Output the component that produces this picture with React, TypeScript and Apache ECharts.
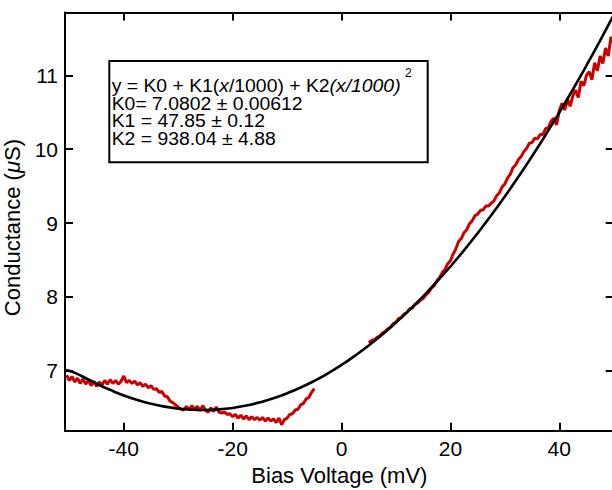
import React, { useEffect, useRef } from 'react';
import * as echarts from 'echarts';

// Measured data, left branch (negative bias)
const biasLeft = [
  -50.5, -50, -49.5, -49, -48.5, -48, -47.5, -47, -46.5, -46, -45.5, -45, -44.5, -44, -43.5, -43,
  -42.5, -42, -41.5, -41, -40.5, -40, -39.5, -39, -38.5, -38, -37.5, -37, -36.5, -36, -35.5, -35,
  -34.5, -34, -33.5, -33, -32.5, -32, -31.5, -31, -30.5, -30, -29.5, -29, -28.5, -28, -27.5, -27,
  -26.5, -26, -25.5, -25, -24.5, -24, -23.5, -23, -22.5, -22, -21.5, -21, -20.5, -20, -19.5, -19,
  -18.5, -18, -17.5, -17, -16.5, -16, -15.5, -15, -14.5, -14, -13.5, -13, -12.5, -12, -11.5, -11,
  -10.5, -10, -9.5, -9, -8.5, -8, -7.5, -7, -6.5, -6, -5.5, -5,
];
const condLeft = [
  6.94, 6.87, 6.92, 6.85, 6.90, 6.83, 6.89, 6.82, 6.87, 6.80, 6.86, 6.79, 6.85, 6.81, 6.87, 6.82,
  6.88, 6.83, 6.87, 6.82, 6.86, 6.93, 6.84, 6.87, 6.83, 6.86, 6.81, 6.84, 6.79, 6.82, 6.77, 6.80,
  6.75, 6.76, 6.71, 6.72, 6.66, 6.65, 6.59, 6.57, 6.54, 6.51, 6.48, 6.47, 6.52, 6.47, 6.53, 6.48,
  6.52, 6.46, 6.53, 6.47, 6.44, 6.50, 6.45, 6.51, 6.44, 6.43, 6.44, 6.41, 6.42, 6.38, 6.41, 6.36,
  6.40, 6.35, 6.39, 6.34, 6.38, 6.34, 6.37, 6.33, 6.37, 6.32, 6.36, 6.32, 6.35, 6.30, 6.36, 6.27,
  6.34, 6.36, 6.41, 6.42, 6.47, 6.48, 6.54, 6.56, 6.62, 6.64, 6.71, 6.76,
];

// Measured data, right branch (positive bias)
const biasRight = [
  5, 5.5, 6, 6.5, 7, 7.5, 8, 8.5, 9, 9.5, 10, 10.5, 11, 11.5, 12, 12.5, 13, 13.5, 14, 14.5,
  15, 15.5, 16, 16.5, 17, 17.5, 18, 18.5, 19, 19.5, 20, 20.5, 21, 21.5, 22, 22.5, 23, 23.5, 24, 24.5,
  25, 25.5, 26, 26.5, 27, 27.5, 28, 28.5, 29, 29.5, 30, 30.5, 31, 31.5, 32, 32.5, 33, 33.5, 34, 34.5,
  35, 35.5, 36, 36.5, 37, 37.5, 38, 38.5, 39, 39.5, 40, 40.5, 41, 41.5, 42, 42.5, 43, 43.5, 44, 44.5,
  45, 45.5, 46, 46.5, 47, 47.5, 48, 48.5, 49, 49.5, 50,
];
const condRight = [
  7.38, 7.41, 7.42, 7.45, 7.47, 7.51, 7.53, 7.57, 7.59, 7.64, 7.66, 7.71, 7.72, 7.77, 7.79, 7.84, 7.85, 7.90, 7.92, 7.96,
  7.98, 8.03, 8.06, 8.12, 8.15, 8.22, 8.26, 8.33, 8.37, 8.45, 8.49, 8.58, 8.65, 8.75, 8.79, 8.87, 8.91, 8.99, 9.03, 9.10,
  9.12, 9.17, 9.18, 9.23, 9.23, 9.27, 9.30, 9.37, 9.41, 9.49, 9.53, 9.61, 9.66, 9.75, 9.79, 9.86, 9.90, 9.97, 10.01, 10.08,
  10.09, 10.15, 10.14, 10.20, 10.20, 10.28, 10.29, 10.38, 10.42, 10.33, 10.52, 10.62, 10.53, 10.68, 10.58, 10.72, 10.80, 10.70, 10.92, 10.86,
  11.00, 11.05, 10.94, 11.17, 11.06, 11.26, 11.16, 11.37, 11.26, 11.52, 11.44,
];

// Fitted curve (black)
const fitBias = [-50.8, -49.6, -47.5, -45, -42.5, -40, -37.5, -35, -32.5, -30, -27.5, -25, -22.5, -20, -17.5, -15, -12.5, -10, -7.5, -5, -2.5, 0, 2.5, 5, 7.5, 10, 12.5, 15, 17.5, 20, 22.5, 25, 27.5, 30, 32.5, 35, 37.5, 40, 42.5, 45, 47.5, 50];
const fitCond = [7.01, 6.99, 6.920, 6.826, 6.742, 6.667, 6.606, 6.555, 6.516, 6.489, 6.474, 6.470, 6.478, 6.498, 6.530, 6.574, 6.629, 6.696, 6.774, 6.864, 6.966, 7.080, 7.206, 7.343, 7.492, 7.653, 7.825, 8.009, 8.205, 8.412, 8.631, 8.863, 9.105, 9.360, 9.626, 9.904, 10.194, 10.495, 10.808, 11.133, 11.469, 11.818];

const xTicks = [-40, -20, 0, 20, 40];
const yTicks = [7, 8, 9, 10, 11];

const fitLines = [
  'y = K0 + K1({i|x}/1000) + K2{i|(x/1000)}',
  'K0= 7.0802 ± 0.00612',
  'K1 = 47.85 ± 0.12',
  'K2 = 938.04 ± 4.88',
];

const xMin = -50.8;
const xMax = 50;
const yMin = 6.19;
const yMax = 11.85;

const FONT = '"Liberation Sans", Arial, Helvetica, sans-serif';

const zip = (a: number[], b: number[]) => a.map((v, i) => [v, b[i]]);

export default function App() {
  const ref = useRef<HTMLDivElement>(null);
  useEffect(() => {
    if (!ref.current) return;
    const chart = echarts.init(ref.current, undefined, { renderer: 'svg' });
    const axisLine = { show: true, onZero: false, lineStyle: { color: '#000', width: 2 } };
    const tick = (vals: number[]) => ({
      show: true,
      inside: true,
      length: 8,
      customValues: vals,
      lineStyle: { color: '#000', width: 2 },
    });
    const lineTop = 86;
    const pitch = 17.6;
    chart.setOption({
      animation: false,
      backgroundColor: '#fff',
      textStyle: { fontFamily: FONT },
      grid: {
        left: 65,
        right: -1.7,
        top: 12.5,
        bottom: 59.3,
        containLabel: false,
        outerBoundsMode: 'none',
      },
      xAxis: [
        {
          type: 'value',
          position: 'bottom',
          min: xMin,
          max: xMax,
          axisLine,
          axisTick: tick(xTicks),
          axisLabel: { customValues: xTicks, fontSize: 21, color: '#000', margin: 7, fontFamily: FONT },
          splitLine: { show: false },
          name: 'Bias Voltage (mV)',
          nameLocation: 'middle',
          nameGap: 34,
          nameTextStyle: { fontSize: 22, color: '#000', fontFamily: FONT },
        },
        {
          type: 'value',
          position: 'top',
          min: xMin,
          max: xMax,
          axisLine,
          axisTick: tick(xTicks),
          axisLabel: { show: false },
          splitLine: { show: false },
        },
      ],
      yAxis: [
        {
          type: 'value',
          position: 'left',
          min: yMin,
          max: yMax,
          axisLine,
          axisTick: tick(yTicks),
          axisLabel: { customValues: yTicks, fontSize: 21, color: '#000', margin: 7, fontFamily: FONT },
          splitLine: { show: false },
          name: 'Conductance ({i|μ}S)',
          nameLocation: 'middle',
          nameGap: 22,
          nameRotate: 90,
          nameTextStyle: {
            fontSize: 22,
            color: '#000',
            fontFamily: FONT,
            padding: [0, 12, 0, 0],
            rich: { i: { fontSize: 22, fontStyle: 'italic', color: '#000', fontFamily: FONT } },
          },
        },
        {
          type: 'value',
          position: 'right',
          min: yMin,
          max: yMax,
          axisLine,
          axisTick: tick(yTicks),
          axisLabel: { show: false },
          splitLine: { show: false },
        },
      ],
      series: [
        {
          type: 'line',
          data: zip(biasLeft, condLeft),
          showSymbol: false,
          lineStyle: { color: '#cc0000', width: 3 },
          z: 2,
        },
        {
          type: 'line',
          data: zip(biasRight, condRight),
          showSymbol: false,
          lineStyle: { color: '#cc0000', width: 3 },
          z: 2,
        },
        {
          type: 'line',
          data: zip(fitBias, fitCond),
          showSymbol: false,
          smooth: true,
          lineStyle: { color: '#000', width: 2.6 },
          z: 3,
        },
      ],
      graphic: [
        {
          type: 'rect',
          shape: { x: 109.3, y: 61, width: 318.4, height: 101.3 },
          style: { fill: '#fff', stroke: '#000', lineWidth: 2 },
          z: 10,
        },
        ...fitLines.map((t, i) => ({
          type: 'text',
          x: 111.7,
          y: lineTop + i * pitch,
          scaleX: 1.1,
          z: 11,
          style: {
            text: t,
            font: `17.6px ${FONT}`,
            fill: '#000',
            verticalAlign: 'middle',
            rich: { i: { fontStyle: 'italic', fontSize: 17.6, fontFamily: FONT, fill: '#000' } },
          },
        })),
        {
          type: 'text',
          x: 405,
          y: 73,
          z: 11,
          style: { text: '2', font: `12px ${FONT}`, fill: '#000', verticalAlign: 'middle' },
        },
      ],
    });
    return () => chart.dispose();
  }, []);
  return <div ref={ref} style={{ width: 612, height: 490, position: 'absolute', left: 0, top: 0 }} />;
}
